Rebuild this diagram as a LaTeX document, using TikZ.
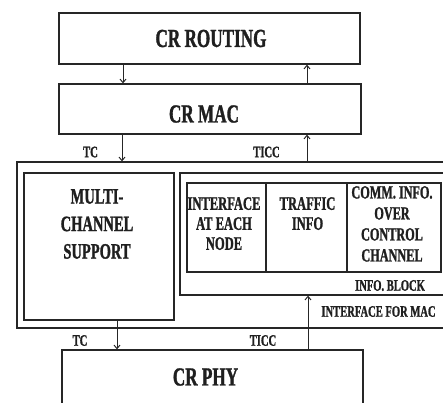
\documentclass[tikz,border=0pt]{standalone}
\usepackage{fontspec}
\newfontfamily\cond[FakeStretch=0.66,FakeBold=1.2]{Liberation Serif}
\usetikzlibrary{arrows.meta}
\begin{document}
\begin{tikzpicture}[x=1pt,y=-1pt,
  box/.style={draw=black!85,line width=1.3pt,rectangle,inner sep=0pt},
  conn/.style={draw=black!85,line width=1pt,-{Straight Barb[length=3.5pt,width=6pt]}},
  lbl/.style={inner sep=0pt,text=black!88,font=\cond\bfseries\fontsize{16}{18}\selectfont},
  big/.style={inner sep=0pt,text=black!88,font=\cond\bfseries\fontsize{26}{30}\selectfont},
  mid/.style={inner sep=0pt,text=black!88,align=center,font=\cond\bfseries\fontsize{22}{27.5}\selectfont},
  cell/.style={inner sep=0pt,text=black!88,align=center,font=\cond\bfseries\fontsize{19}{20}\selectfont}]
\useasboundingbox (0,0) rectangle (443,402);
\clip (0,0) rectangle (443,402);
% boxes
\node[box,minimum width=301pt,minimum height=51pt] (routing) at (209.5,38.5) {};
\node[box,minimum width=302pt,minimum height=50pt] (mac) at (210,109) {};
\node[box,minimum width=453pt,minimum height=166pt] (outer) at (243.5,245) {};
\node[box,minimum width=150pt,minimum height=147pt] (multi) at (99,246.5) {};
\node[box,minimum width=290pt,minimum height=122pt] (infoblk) at (325,234) {};
\node[box,line width=1.6pt,minimum width=79pt,minimum height=89pt] (c1) at (226.5,227.5) {};
\node[box,line width=1.6pt,minimum width=81pt,minimum height=89pt] (c2) at (306.5,227.5) {};
\node[box,line width=1.6pt,minimum width=94pt,minimum height=89pt] (c3) at (394,227.5) {};
\node[box,minimum width=301pt,minimum height=70pt] (phy) at (212.5,385) {};
% texts
\node[big] (troute) at (211,38.5) {CR ROUTING};
\node[big] (tmac) at (204,114) {CR MAC};
\node[big] (tphy) at (205.5,377) {CR PHY};
\node[mid,anchor=north] (tmulti) at (97,189) {MULTI-\\CHANNEL\\SUPPORT};
\node[cell,anchor=north] (t1) at (224,197) {INTERFACE\\AT EACH\\NODE};
\node[cell,anchor=north] (t2) at (307.5,197) {TRAFFIC\\INFO};
\node[cell,anchor=north,font=\cond\bfseries\fontsize{18.5}{21}\selectfont] (t3) at (392,186) {COMM. INFO.\\OVER\\CONTROL\\CHANNEL};
\node[lbl] (tblock) at (390,285.5) {INFO. BLOCK};
\node[lbl] (tifmac) at (378.5,311.5) {INTERFACE FOR MAC};
\node[lbl] (tc1) at (90.5,152) {TC};
\node[lbl] (ticc1) at (266.5,152) {TICC};
\node[lbl] (tc2) at (80,340.5) {TC};
\node[lbl] (ticc2) at (263,340.5) {TICC};
% connector x positions
\coordinate (xa) at (123,0);
\coordinate (xb) at (307,0);
\coordinate (xc) at (122,0);
\coordinate (xd) at (117,0);
\coordinate (xe) at (308,0);
% connectors
\draw[conn] (routing.south -| xa) -- (mac.north -| xa);
\draw[conn] (mac.north -| xb) -- (routing.south -| xb);
\draw[conn] (mac.south -| xc) -- (outer.north -| xc);
\draw[conn] (outer.north -| xb) -- (mac.south -| xb);
\draw[conn] (multi.south -| xd) -- (phy.north -| xd);
\draw[conn] (phy.north -| xe) -- (infoblk.south -| xe);
\end{tikzpicture}
\end{document}
